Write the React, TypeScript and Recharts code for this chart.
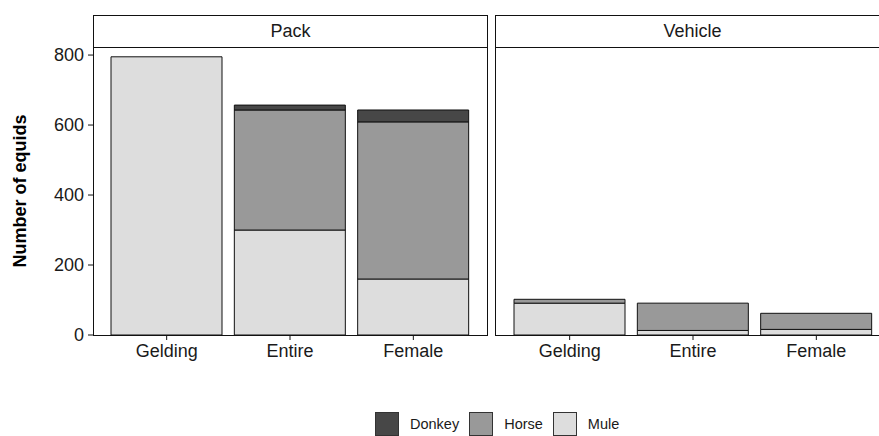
import { BarChart, Bar, XAxis, YAxis } from "recharts";

const categories = ["Gelding", "Entire", "Female"];
const packMule = [795, 300, 160];
const packHorse = [0, 343, 449];
const packDonkey = [0, 14, 34];
const vehicleMule = [91, 13, 16];
const vehicleHorse = [11, 78, 46];
const vehicleDonkey = [0, 0, 0];
const yTicks = [0, 200, 400, 600, 800];
const yMax = 823;

const species = [
  { key: "Donkey", fill: "#474747" },
  { key: "Horse", fill: "#999999" },
  { key: "Mule", fill: "#DDDDDD" },
];

const FONT = "'Liberation Sans', Arial, sans-serif";

const packData = categories.map((c, i) => ({
  name: c,
  Mule: packMule[i],
  Horse: packHorse[i],
  Donkey: packDonkey[i],
}));
const vehicleData = categories.map((c, i) => ({
  name: c,
  Mule: vehicleMule[i],
  Horse: vehicleHorse[i],
  Donkey: vehicleDonkey[i],
}));

const tickStyle = { fontSize: 18, fill: "#1a1a1a", fontFamily: FONT };

// bottom-up stacking: Mule, Horse, Donkey
function Stacks() {
  return (
    <>
      {["Mule", "Horse", "Donkey"].map((k) => (
        <Bar
          key={k}
          dataKey={k}
          stackId="s"
          fill={species.find((s) => s.key === k)!.fill}
          stroke="#111"
          strokeWidth={1}
          barSize={111}
          isAnimationActive={false}
        />
      ))}
    </>
  );
}

function Strip({ left, label }: { left: number; label: string }) {
  return (
    <div
      style={{
        position: "absolute",
        left,
        top: 15,
        width: 395,
        height: 33,
        boxSizing: "border-box",
        border: "1px solid #111",
        background: "#fff",
        display: "flex",
        alignItems: "center",
        justifyContent: "center",
        fontSize: 18,
        color: "#1a1a1a",
      }}
    >
      {label}
    </div>
  );
}

function Frame({ left }: { left: number }) {
  return (
    <div
      style={{
        position: "absolute",
        left,
        top: 47,
        width: 395,
        height: 289,
        boxSizing: "border-box",
        border: "1px solid #111",
        pointerEvents: "none",
      }}
    />
  );
}

export default function App() {
  return (
    <div
      style={{
        position: "absolute",
        left: 0,
        top: 0,
        width: 879,
        height: 436,
        overflow: "hidden",
        background: "#fff",
        fontFamily: FONT,
      }}
    >
      <div style={{ position: "absolute", left: 0, top: 37 }}>
        <BarChart
          width={488}
          height={338}
          data={packData}
          margin={{ top: 10, right: 1, bottom: 0, left: 0 }}
        >
          <XAxis
            dataKey="name"
            axisLine={false}
            tickLine={{ stroke: "#111" }}
            tickSize={5}
            tickMargin={4}
            tick={tickStyle}
            height={40}
            padding={{ left: 12, right: 12 }}
            interval={0}
          />
          <YAxis
            domain={[0, yMax]}
            ticks={yTicks}
            interval={0}
            axisLine={false}
            tickLine={{ stroke: "#111" }}
            tickSize={5}
            tickMargin={4}
            tick={tickStyle}
            width={93}
          />
          {Stacks()}
        </BarChart>
      </div>

      <div style={{ position: "absolute", left: 495, top: 37 }}>
        <BarChart
          width={396}
          height={338}
          data={vehicleData}
          margin={{ top: 10, right: 1, bottom: 0, left: 1 }}
        >
          <XAxis
            dataKey="name"
            axisLine={false}
            tickLine={{ stroke: "#111" }}
            tickSize={5}
            tickMargin={4}
            tick={tickStyle}
            height={40}
            padding={{ left: 12, right: 12 }}
            interval={0}
          />
          <YAxis hide domain={[0, yMax]} />
          {Stacks()}
        </BarChart>
      </div>

      <Frame left={93} />
      <Frame left={495} />
      <Strip left={93} label="Pack" />
      <Strip left={495} label="Vehicle" />

      <div
        style={{
          position: "absolute",
          left: 20,
          top: 191,
          transform: "translate(-50%, -50%) rotate(-90deg)",
          whiteSpace: "nowrap",
          fontSize: 18,
          fontWeight: "bold",
          color: "#000",
        }}
      >
        Number of equids
      </div>

      <div
        style={{
          position: "absolute",
          left: 375,
          top: 412,
          display: "flex",
          alignItems: "center",
          fontSize: 14.5,
          color: "#1a1a1a",
        }}
      >
        {species.map((s) => (
          <div key={s.key} style={{ display: "flex", alignItems: "center", marginRight: 10 }}>
            <div
              style={{
                width: 24,
                height: 24,
                boxSizing: "border-box",
                background: s.fill,
                border: "1px solid #333",
                marginRight: 11,
              }}
            />
            <span>{s.key}</span>
          </div>
        ))}
      </div>
    </div>
  );
}
